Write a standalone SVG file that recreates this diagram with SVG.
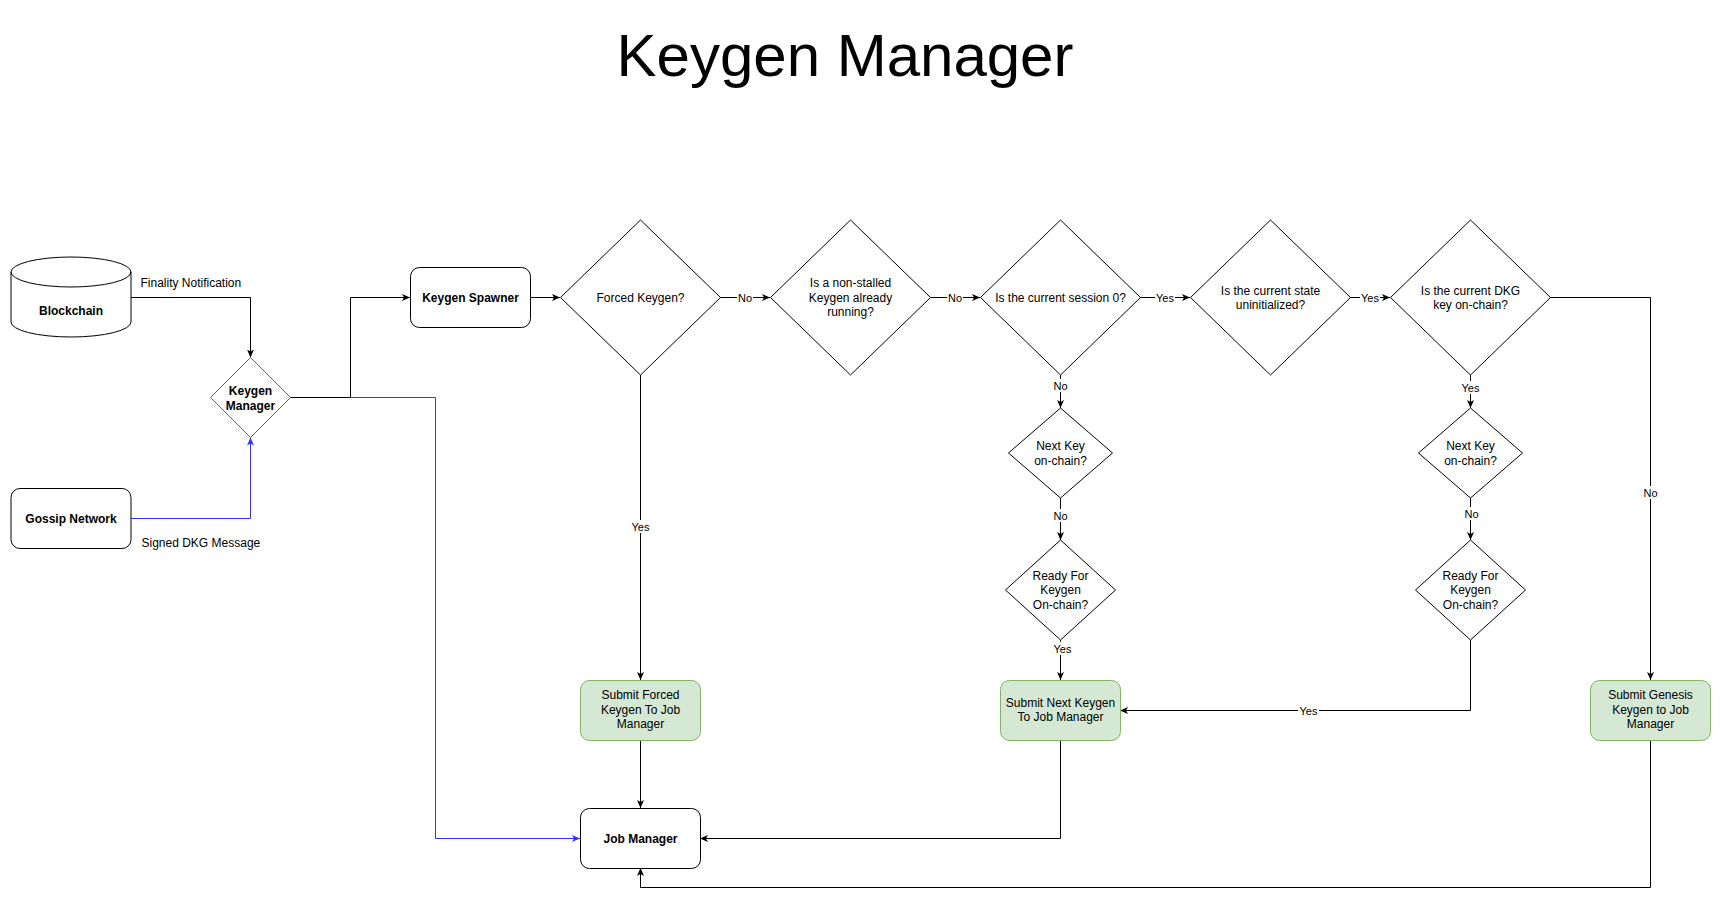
<svg xmlns="http://www.w3.org/2000/svg" width="1721" height="908" viewBox="0 0 1721 908">
<style>
text{font-family:"Liberation Sans",Arial,Helvetica,sans-serif;fill:#000}
.t{font-size:12px;text-anchor:middle}
.b{font-weight:bold}
.lbl{font-size:11px;text-anchor:middle}
.el{font-size:12px}
.box{fill:#fff;stroke:#000;stroke-width:1}
.green{fill:#d5e8d4;stroke:#82b366;stroke-width:1}
.dia{fill:#fff;stroke:#000;stroke-width:1}
.c{fill:none;stroke:#000;stroke-width:1}
.blue{fill:none;stroke:#3333ff;stroke-width:1}
.lb{fill:#fff}
</style>
<defs>
<marker id="ah" markerUnits="userSpaceOnUse" markerWidth="10" markerHeight="10" refX="8" refY="3.5" orient="auto">
<path d="M0,0 L8,3.5 L0,7 L2,3.5 Z" fill="#000"/>
</marker>
<marker id="ahb" markerUnits="userSpaceOnUse" markerWidth="10" markerHeight="10" refX="8" refY="3.5" orient="auto">
<path d="M0,0 L8,3.5 L0,7 L2,3.5 Z" fill="#3333ff"/>
</marker>
</defs>
<rect width="1721" height="908" fill="#fff"/>
<text x="845" y="76" style="font-size:60px;text-anchor:middle">Keygen Manager</text>

<g id="connectors">
<path class="blue" d="M290.5,397.5 H435.5 V838.5 H580" marker-end="url(#ahb)"/>
<path class="c" d="M131,297.5 H250.5 V357.5" marker-end="url(#ah)"/>
<path class="blue" d="M131,518.5 H250.5 V437.5" marker-end="url(#ahb)"/>
<path class="c" d="M290.5,397.5 H350.5 V297.5 H410" marker-end="url(#ah)"/>
<path class="c" d="M530,297.5 H560" marker-end="url(#ah)"/>
<path class="c" d="M720,297.5 H770" marker-end="url(#ah)"/>
<path class="c" d="M930,297.5 H980" marker-end="url(#ah)"/>
<path class="c" d="M1140,297.5 H1190" marker-end="url(#ah)"/>
<path class="c" d="M1350,297.5 H1390" marker-end="url(#ah)"/>
<path class="c" d="M1550,297.5 H1650.5 V680" marker-end="url(#ah)"/>
<path class="c" d="M640.5,375 V680" marker-end="url(#ah)"/>
<path class="c" d="M640.5,740 V808" marker-end="url(#ah)"/>
<path class="c" d="M1060.5,375 V408" marker-end="url(#ah)"/>
<path class="c" d="M1060.5,498 V540" marker-end="url(#ah)"/>
<path class="c" d="M1060.5,640 V680" marker-end="url(#ah)"/>
<path class="c" d="M1470.5,375 V408" marker-end="url(#ah)"/>
<path class="c" d="M1470.5,498 V540" marker-end="url(#ah)"/>
<path class="c" d="M1470.5,640 V710.5 H1120" marker-end="url(#ah)"/>
<path class="c" d="M1060.5,740 V838.5 H700" marker-end="url(#ah)"/>
<path class="c" d="M1650.5,740 V887.5 H640.5 V868" marker-end="url(#ah)"/>

<text class="el" x="140.5" y="287">Finality Notification</text>
<text class="el" x="141.5" y="547">Signed DKG Message</text>

<rect class="lb" x="737" y="291" width="16" height="13"/>
<text class="lbl" x="745" y="301.5">No</text>
<rect class="lb" x="947" y="291" width="16" height="13"/>
<text class="lbl" x="955" y="301.5">No</text>
<rect class="lb" x="1155" y="291" width="20" height="13"/>
<text class="lbl" x="1165" y="301.5">Yes</text>
<rect class="lb" x="1360" y="291" width="20" height="13"/>
<text class="lbl" x="1370" y="301.5">Yes</text>
<rect class="lb" x="1642" y="486" width="17" height="13"/>
<text class="lbl" x="1650.5" y="496.5">No</text>
<rect class="lb" x="630" y="520" width="21" height="13"/>
<text class="lbl" x="640.5" y="530.5">Yes</text>
<rect class="lb" x="1052" y="379" width="17" height="13"/>
<text class="lbl" x="1060.5" y="389.5">No</text>
<rect class="lb" x="1052" y="509" width="17" height="13"/>
<text class="lbl" x="1060.5" y="519.5">No</text>
<rect class="lb" x="1052" y="642" width="21" height="13"/>
<text class="lbl" x="1062.5" y="652.5">Yes</text>
<rect class="lb" x="1460" y="381" width="21" height="13"/>
<text class="lbl" x="1470.5" y="391.5">Yes</text>
<rect class="lb" x="1463" y="507" width="17" height="13"/>
<text class="lbl" x="1471.5" y="517.5">No</text>
<rect class="lb" x="1298" y="704" width="21" height="13"/>
<text class="lbl" x="1308.5" y="714.5">Yes</text>
</g>

<g id="blockchain">
<path class="box" d="M11,272 A60,15 0 0 1 131,272 V322 A60,15 0 0 1 11,322 Z"/>
<path class="c" d="M11,272 A60,15 0 0 0 131,272"/>
<text class="t b" x="71" y="315">Blockchain</text>
</g>

<g id="gossip-network">
<rect class="box" x="11" y="488.5" width="120" height="60" rx="9"/>
<text class="t b" x="71" y="522.5">Gossip Network</text>
</g>

<g id="keygen-manager">
<polygon class="dia" style="stroke:#666" points="250.5,357.5 290.5,397.5 250.5,437.5 210.5,397.5"/>
<text class="t b" x="250.5" y="395">Keygen</text>
<text class="t b" x="250.5" y="409.5">Manager</text>
</g>

<g id="keygen-spawner">
<rect class="box" x="410.5" y="267.5" width="120" height="60" rx="9"/>
<text class="t b" x="470.5" y="301.5">Keygen Spawner</text>
</g>

<g id="forced-keygen">
<polygon class="dia" points="640.5,220 720.5,297.5 640.5,375 560.5,297.5"/>
<text class="t" x="640.5" y="301.5">Forced Keygen?</text>
</g>

<g id="non-stalled">
<polygon class="dia" points="850.5,220 930.5,297.5 850.5,375 770.5,297.5"/>
<text class="t" x="850.5" y="287">Is a non-stalled</text>
<text class="t" x="850.5" y="301.5">Keygen already</text>
<text class="t" x="850.5" y="316">running?</text>
</g>

<g id="session-zero">
<polygon class="dia" points="1060.5,220 1140.5,297.5 1060.5,375 980.5,297.5"/>
<text class="t" x="1060.5" y="301.5">Is the current session 0?</text>
</g>

<g id="state-uninit">
<polygon class="dia" points="1270.5,220 1350.5,297.5 1270.5,375 1190.5,297.5"/>
<text class="t" x="1270.5" y="294.5">Is the current state</text>
<text class="t" x="1270.5" y="309">uninitialized?</text>
</g>

<g id="dkg-onchain">
<polygon class="dia" points="1470.5,220 1550.5,297.5 1470.5,375 1390.5,297.5"/>
<text class="t" x="1470.5" y="294.5">Is the current DKG</text>
<text class="t" x="1470.5" y="309">key on-chain?</text>
</g>

<g id="next-key-1">
<polygon class="dia" points="1060.5,408 1112.5,453 1060.5,498 1008.5,453"/>
<text class="t" x="1060.5" y="450">Next Key</text>
<text class="t" x="1060.5" y="464.5">on-chain?</text>
</g>

<g id="ready-1">
<polygon class="dia" points="1060.5,540 1115.5,590 1060.5,640 1005.5,590"/>
<text class="t" x="1060.5" y="579.5">Ready For</text>
<text class="t" x="1060.5" y="594">Keygen</text>
<text class="t" x="1060.5" y="608.5">On-chain?</text>
</g>

<g id="next-key-2">
<polygon class="dia" points="1470.5,408 1522.5,453 1470.5,498 1418.5,453"/>
<text class="t" x="1470.5" y="450">Next Key</text>
<text class="t" x="1470.5" y="464.5">on-chain?</text>
</g>

<g id="ready-2">
<polygon class="dia" points="1470.5,540 1525.5,590 1470.5,640 1415.5,590"/>
<text class="t" x="1470.5" y="579.5">Ready For</text>
<text class="t" x="1470.5" y="594">Keygen</text>
<text class="t" x="1470.5" y="608.5">On-chain?</text>
</g>

<g id="submit-forced">
<rect class="green" x="580.5" y="680.5" width="120" height="60" rx="9"/>
<text class="t" x="640.5" y="699">Submit Forced</text>
<text class="t" x="640.5" y="713.5">Keygen To Job</text>
<text class="t" x="640.5" y="728">Manager</text>
</g>

<g id="submit-next">
<rect class="green" x="1000.5" y="680.5" width="120" height="60" rx="9"/>
<text class="t" x="1060.5" y="706.5">Submit Next Keygen</text>
<text class="t" x="1060.5" y="721">To Job Manager</text>
</g>

<g id="submit-genesis">
<rect class="green" x="1590.5" y="680.5" width="120" height="60" rx="9"/>
<text class="t" x="1650.5" y="699">Submit Genesis</text>
<text class="t" x="1650.5" y="713.5">Keygen to Job</text>
<text class="t" x="1650.5" y="728">Manager</text>
</g>

<g id="job-manager">
<rect class="box" x="580.5" y="808.5" width="120" height="60" rx="9"/>
<text class="t b" x="640.5" y="842.5">Job Manager</text>
</g>
</svg>
